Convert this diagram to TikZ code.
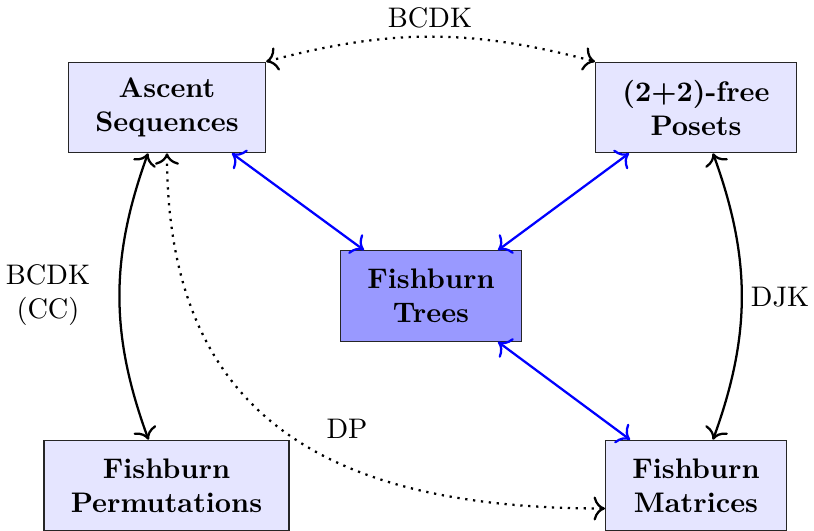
\documentclass[tikz,border=0pt]{standalone}
\usetikzlibrary{calc,arrows.meta}
\begin{document}
\begin{tikzpicture}[x=0.3534pt,y=0.3534pt,
  >={To[scale=1.2]},
  box/.style={draw=black!85, fill=blue!10, align=center, font=\bfseries,
    inner xsep=9.5pt, minimum height=32pt},
  hub/.style={box, fill=blue!40},
  solidlink/.style={<->, thick},
  bluelink/.style={<->, thick, blue},
  dotlink/.style={<->, thick, dotted},
  lbl/.style={align=center, inner sep=0pt}]
\useasboundingbox (0,0) rectangle (814,-531);

% the five families
\node[box] (asc) at (167,-107.5) {Ascent\\Sequences};
\node[box] (pos) at (696,-107.5) {(2+2)-free\\Posets};
\node[hub] (tre) at (431,-296) {Fishburn\\Trees};
\node[box] (per) at (166.5,-485.5) {Fishburn\\Permutations};
\node[box] (mat) at (696,-485.5) {Fishburn\\Matrices};

% attachment points on the box edges
\coordinate (ascL) at ($(asc.south)+(-19,0)$);
\coordinate (perL) at ($(per.north)+(-18,0)$);
\coordinate (posR) at ($(pos.south)+(17,0)$);
\coordinate (matR) at ($(mat.north)+(17,0)$);
\coordinate (matW) at ($(mat.west)+(0,-23)$);
\coordinate (ascB) at ($(asc.south)+(65,0)$);
\coordinate (posB) at ($(pos.south)+(-67,0)$);
\coordinate (treTL) at ($(tre.north)+(-67,0)$);
\coordinate (treTR) at ($(tre.north)+(67,0)$);
\coordinate (treBR) at ($(tre.south)+(67,0)$);
\coordinate (matT) at ($(mat.north)+(-66,0)$);

% bijections through the trees
\draw[bluelink] (ascB) -- (treTL);
\draw[bluelink] (posB) -- (treTR);
\draw[bluelink] (treBR) -- (matT);

% outer bijections
\draw[dotlink] (asc.north east) to[bend left=15] (pos.north west);
\draw[solidlink] (ascL) to[bend right=20] (perL);
\draw[solidlink] (posR) to[bend left=20] (matR);
\draw[dotlink] (asc.south) to[out=-90,in=180,looseness=1.22] (matW);

% labels
\node[lbl] (l1) at (430,-18) {BCDK};
\node[lbl] (l2) at (48,-295) {BCDK\\(CC)};
\node[lbl] (l3) at (780,-297) {DJK};
\node[lbl] (l4) at (347,-429) {DP};
\end{tikzpicture}
\end{document}
